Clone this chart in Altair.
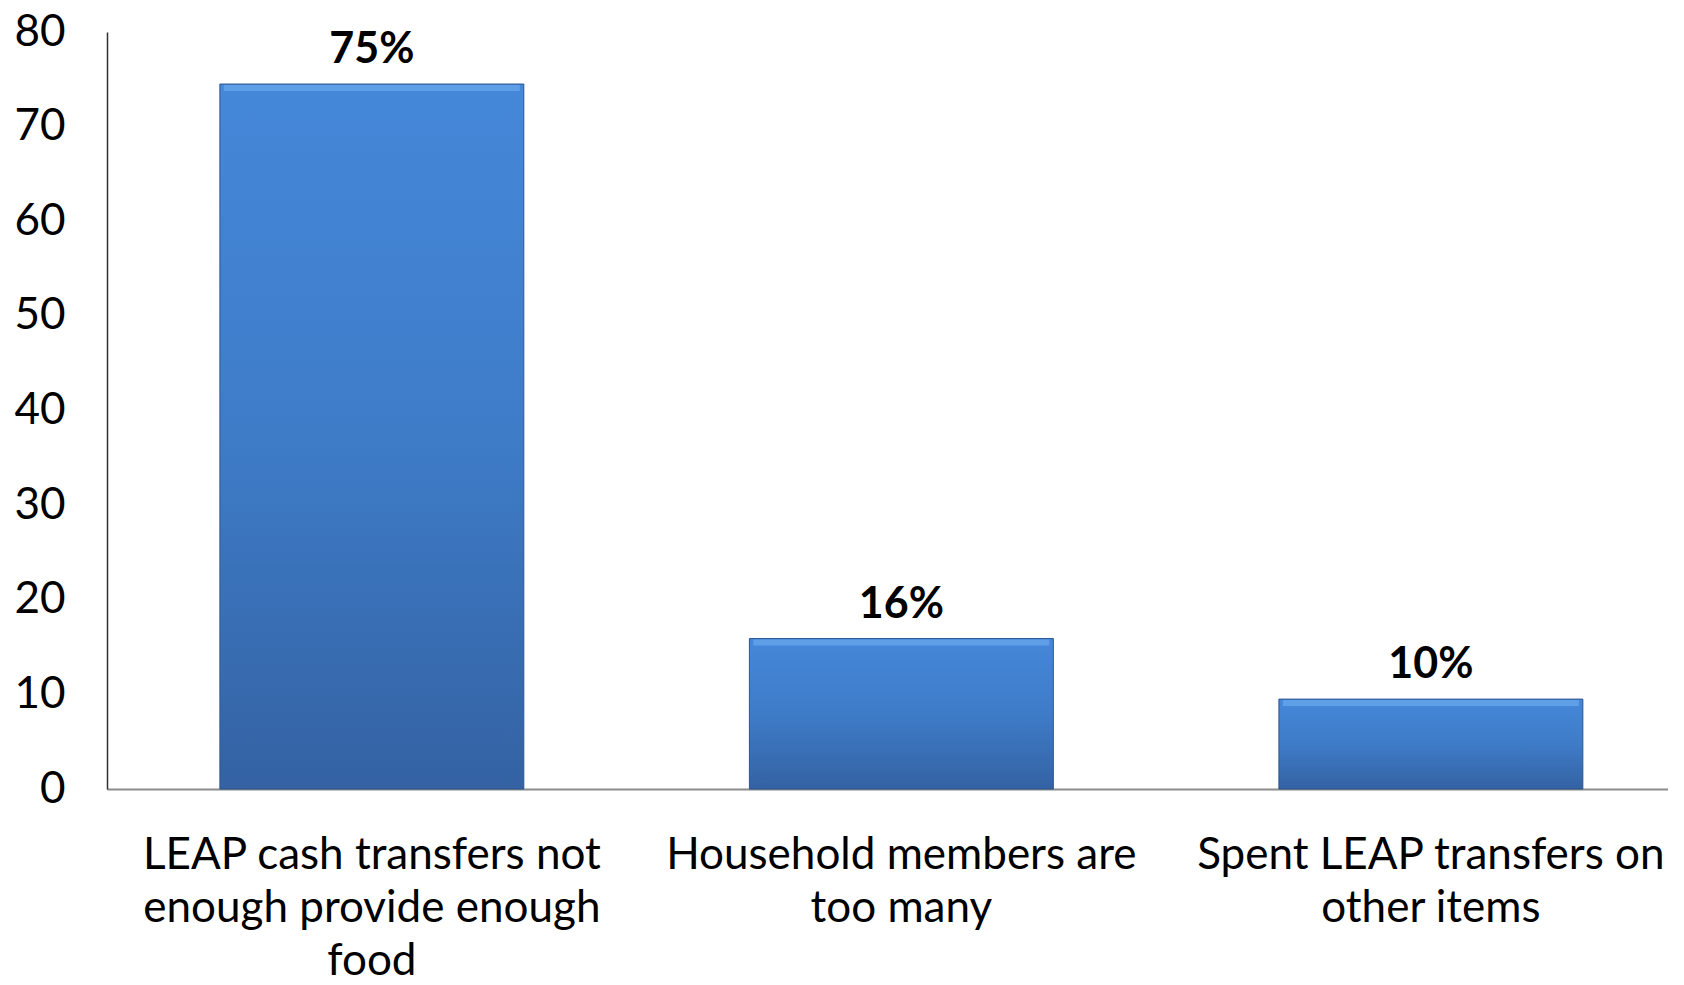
import altair as alt
import pandas as pd

categories = [
    "LEAP cash transfers not enough provide enough food",
    "Household members are too many",
    "Spent LEAP transfers on other items",
]
label_lines = [
    ["LEAP cash transfers not", "enough provide enough", "food"],
    ["Household members are", "too many"],
    ["Spent LEAP transfers on", "other items"],
]
values = [74.5, 15.9, 9.5]
value_labels = ["75%", "16%", "10%"]

df = pd.DataFrame({"category": categories, "value": values, "label": value_labels})

expr_parts = []
for c, lines in zip(categories, label_lines):
    arr = "[" + ",".join("'" + l + "'" for l in lines) + "]"
    expr_parts.append(f"datum.label == '{c}' ? {arr} : ")
label_expr = "".join(expr_parts) + "datum.label"

FONT = "Lato"

x = alt.X(
    "category:N",
    sort=categories,
    scale=alt.Scale(paddingInner=0.426, paddingOuter=0.187, align=0.57),
    axis=alt.Axis(
        title=None,
        labelAngle=0,
        labelExpr=label_expr,
        labelFontSize=44,
        labelFont=FONT,
        labelColor="#000000",
        labelLineHeight=53,
        labelPadding=44,
        labelBaseline="top",
        ticks=False,
        grid=False,
        domainColor="#8c8c8c",
        domainWidth=2,
        labelLimit=0,
    ),
)
y = alt.Y(
    "value:Q",
    scale=alt.Scale(domain=[0, 80]),
    axis=alt.Axis(
        title=None,
        values=[0, 10, 20, 30, 40, 50, 60, 70, 80],
        grid=False,
        ticks=False,
        labelFontSize=44,
        labelFont=FONT,
        labelColor="#000000",
        labelPadding=42,
        domainColor="#303030",
        domainWidth=1.5,
    ),
)

bars = alt.Chart(df).mark_bar(
    fill=alt.Gradient(
        gradient="linear",
        x1=0, y1=0, x2=0, y2=1,
        stops=[
            alt.GradientStop(color="#4587d9", offset=0),
            alt.GradientStop(color="#3e7cc8", offset=0.5),
            alt.GradientStop(color="#3462a3", offset=1),
        ],
    ),
    stroke="#2d558f",
    strokeWidth=1,
).encode(x=x, y=y)

bevel = alt.Chart(df).mark_tick(
    color="#6aa9ee", thickness=6, size=296, yOffset=4, orient="horizontal"
).encode(x=x, y=y)

text = alt.Chart(df).mark_text(
    font=FONT, fontSize=43, fontWeight="bold", color="#000000",
    baseline="alphabetic", dy=-21,
).encode(x=x, y=y, text="label:N")

chart = (
    alt.layer(bars, bevel, text)
    .properties(
        width=1561,
        height=757,
        autosize=alt.AutoSizeParams(type="none"),
        padding={"left": 99, "top": 24, "right": 0, "bottom": 188},
        view=alt.ViewBackground(stroke="transparent", strokeWidth=0),
    )
    .configure_view(stroke="transparent", strokeWidth=0, fill="transparent")
    .configure_axis(grid=False)
    .configure(background="#ffffff")
)

chart.save("out.html", embed_options={"renderer": "svg", "actions": False})
